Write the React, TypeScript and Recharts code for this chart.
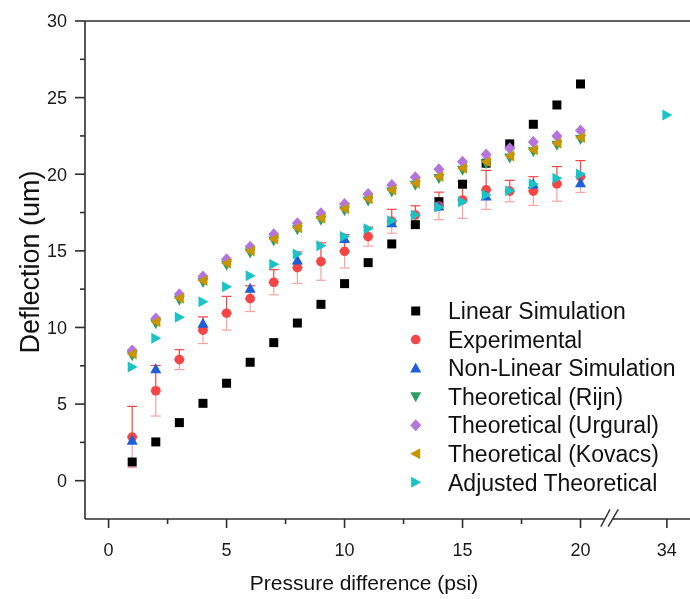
import { ScatterChart, Scatter, XAxis, YAxis, ErrorBar, ReferenceLine, Legend } from 'recharts';

const FONT = '"Liberation Sans", Arial, sans-serif';
const AXIS = '#2e2e2e';

// pressure difference (psi)
const pressure = [1, 2, 3, 4, 5, 6, 7, 8, 9, 10, 11, 12, 13, 14, 15, 16, 17, 18, 19, 20];
const linearSim = [1.22, 2.53, 3.79, 5.05, 6.36, 7.73, 9.01, 10.29, 11.51, 12.86, 14.23, 15.45, 16.71, 18.21, 19.35, 20.72, 21.98, 23.26, 24.52, 25.89];
const experimental = [2.85, 5.87, 7.9, 9.82, 10.93, 11.88, 12.95, 13.9, 14.3, 14.97, 15.93, 16.93, 17.34, 17.93, 18.32, 18.98, 18.9, 18.9, 19.37, 19.85];
const expError = [2.0, 1.65, 0.65, 0.87, 1.1, 0.84, 0.82, 1.03, 1.22, 1.09, 0.62, 0.78, 0.6, 0.9, 1.2, 1.27, 0.7, 0.94, 1.13, 1.04];
const nonLinearX = [1, 2, 4, 6, 8, 10, 12, 14, 16, 18, 20];
const nonLinearSim = [2.64, 7.31, 10.27, 12.56, 14.41, 15.8, 16.84, 17.93, 18.58, 19.37, 19.45];
const rijn = [8.15, 10.25, 11.78, 12.93, 14.06, 14.86, 15.65, 16.38, 17.0, 17.62, 18.26, 18.84, 19.28, 19.72, 20.26, 20.69, 21.06, 21.46, 21.89, 22.26];
const urgural = [8.49, 10.58, 12.17, 13.32, 14.45, 15.27, 16.08, 16.8, 17.45, 18.06, 18.71, 19.3, 19.8, 20.33, 20.82, 21.28, 21.7, 22.1, 22.5, 22.85];
const kovacs = [8.27, 10.38, 11.9, 13.06, 14.19, 14.99, 15.78, 16.51, 17.13, 17.75, 18.39, 18.97, 19.41, 19.85, 20.39, 20.82, 21.19, 21.59, 22.02, 22.39];
const adjusted = [7.42, 9.29, 10.67, 11.68, 12.66, 13.38, 14.12, 14.8, 15.34, 15.93, 16.45, 16.97, 17.34, 17.85, 18.21, 18.65, 18.93, 19.37, 19.74, 20.02];
// the point past the axis break
const adjustedFarX = [34];
const adjustedFar = [23.87];

const xTicks = [0, 2.5, 5, 7.5, 10, 12.5, 15, 17.5, 20];
const farTicks = [34];
const yTicks = [0, 2.5, 5, 7.5, 10, 12.5, 15, 17.5, 20, 22.5, 25, 27.5, 30];

const rows = (xs: number[], ys: number[]) => xs.map((x, i) => ({ x, y: ys[i] }));
const expRows = pressure.map((x, i) => ({
  x,
  y: experimental[i],
  errUp: [0, expError[i]],
  errDown: [expError[i], 0],
}));

type Kind = 'square' | 'circle' | 'up' | 'down' | 'diamond' | 'left' | 'right';

const series: { name: string; kind: Kind; color: string }[] = [
  { name: 'Linear Simulation', kind: 'square', color: '#000000' },
  { name: 'Experimental', kind: 'circle', color: '#f54545' },
  { name: 'Non-Linear Simulation', kind: 'up', color: '#1c5fd8' },
  { name: 'Theoretical (Rijn)', kind: 'down', color: '#2f9e62' },
  { name: 'Theoretical (Urgural)', kind: 'diamond', color: '#b374dc' },
  { name: 'Theoretical (Kovacs)', kind: 'left', color: '#c89400' },
  { name: 'Adjusted Theoretical', kind: 'right', color: '#17c4c6' },
];

function Marker({ kind, cx, cy, fill }: { kind: Kind; cx: number; cy: number; fill: string }) {
  switch (kind) {
    case 'square':
      return <rect x={cx - 4.5} y={cy - 4.5} width={9} height={9} fill={fill} />;
    case 'circle':
      return <circle cx={cx} cy={cy} r={4.8} fill={fill} />;
    case 'up':
      return <polygon points={`${cx},${cy - 5.5} ${cx - 5.5},${cy + 4.5} ${cx + 5.5},${cy + 4.5}`} fill={fill} />;
    case 'down':
      return <polygon points={`${cx},${cy + 5.5} ${cx - 5.5},${cy - 4.5} ${cx + 5.5},${cy - 4.5}`} fill={fill} />;
    case 'diamond':
      return <polygon points={`${cx},${cy - 6} ${cx + 5.5},${cy} ${cx},${cy + 6} ${cx - 5.5},${cy}`} fill={fill} />;
    case 'left':
      return <polygon points={`${cx - 5.5},${cy} ${cx + 4.5},${cy - 5.5} ${cx + 4.5},${cy + 5.5}`} fill={fill} />;
    default:
      return <polygon points={`${cx + 5.5},${cy} ${cx - 4.5},${cy - 5.5} ${cx - 4.5},${cy + 5.5}`} fill={fill} />;
  }
}

const shapeOf = (i: number) => (p: any) => <Marker kind={series[i].kind} cx={p.cx} cy={p.cy} fill={series[i].color} />;

const XTick = ({ x, y, payload }: any) => {
  const v = payload.value;
  const major = v % 5 === 0;
  return (
    <g>
      <line x1={x} x2={x} y1={y} y2={y + (major ? 9 : 5)} stroke={AXIS} strokeWidth={1.6} />
      {major && (
        <text x={x} y={y + 37} textAnchor="middle" fontSize={18} fill="#1a1a1a" fontFamily={FONT}>
          {v}
        </text>
      )}
    </g>
  );
};

const YTick = ({ x, y, payload }: any) => {
  const v = payload.value;
  const major = v % 5 === 0;
  return (
    <g>
      <line x1={x} x2={x - (major ? 10 : 5)} y1={y} y2={y} stroke={AXIS} strokeWidth={1.6} />
      {major && (
        <text x={x - 18} y={y + 6.4} textAnchor="end" fontSize={18} fill="#1a1a1a" fontFamily={FONT}>
          {v}
        </text>
      )}
    </g>
  );
};

function LegendBox({ payload }: any) {
  const items = (payload || [])
    .filter((p: any) => p.type !== 'none')
    .sort((a: any, b: any) => series.findIndex((s) => s.name === a.value) - series.findIndex((s) => s.name === b.value));
  return (
    <svg width={290} height={205} style={{ display: 'block' }}>
      {items.map((p: any, i: number) => {
        const s = series.find((d) => d.name === p.value) || series[0];
        const cy = 14 + i * 28.55;
        return (
          <g key={p.value}>
            <Marker kind={s.kind} cx={15.7} cy={cy} fill={s.color} />
            <text x={48} y={cy + 8.2} fontSize={23} fill="#111" fontFamily={FONT}>
              {p.value}
            </text>
          </g>
        );
      })}
    </svg>
  );
}

export default function App() {
  const line = { stroke: AXIS, strokeWidth: 1.6 };
  return (
    <div style={{ position: 'fixed', left: 0, top: 0 }}>
      <ScatterChart width={690} height={599} margin={{ top: 21, right: 0, bottom: 0, left: 0 }}>
        <XAxis
          xAxisId="main"
          type="number"
          dataKey="x"
          domain={[-1, 24.64]}
          ticks={xTicks}
          interval={0}
          height={80}
          tickSize={0}
          tickMargin={0}
          tickLine={false}
          axisLine={false}
          tick={<XTick />}
          allowDataOverflow
          label={{
            content: ({ viewBox }: any) => (
              <text x={364} y={viewBox.y + 71} textAnchor="middle" fontSize={21} fill="#111" fontFamily={FONT}>
                Pressure difference (psi)
              </text>
            ),
          }}
        />
        {/* same scale as the main axis, shifted so 34 sits past the break */}
        <XAxis xAxisId="far" type="number" dataKey="x" domain={[9.34, 34.98]} ticks={farTicks} height={0} hide allowDataOverflow />
        <YAxis
          type="number"
          dataKey="y"
          domain={[-2.5, 30]}
          ticks={yTicks}
          interval={0}
          width={85}
          tickSize={0}
          tickMargin={0}
          tickLine={false}
          axisLine={line}
          tick={<YTick />}
          allowDataOverflow
          label={{
            content: () => (
              <text
                x={39}
                y={262}
                transform="rotate(-90 39 262)"
                textAnchor="middle"
                fontSize={27}
                fill="#111"
                fontFamily={FONT}
              >
                Deflection (um)
              </text>
            ),
          }}
        />

        <ReferenceLine xAxisId="main" y={30} {...line} />
        <ReferenceLine xAxisId="main" segment={[{ x: -1, y: -2.5 }, { x: 21.03, y: -2.5 }]} {...line} ifOverflow="visible" />
        <ReferenceLine xAxisId="main" segment={[{ x: 21.36, y: -2.5 }, { x: 24.64, y: -2.5 }]} {...line} ifOverflow="visible" />
        <ReferenceLine xAxisId="main" segment={[{ x: 20.86, y: -3.0 }, { x: 21.25, y: -1.87 }]} stroke={AXIS} strokeWidth={1.4} ifOverflow="visible" />
        <ReferenceLine xAxisId="main" segment={[{ x: 21.17, y: -3.0 }, { x: 21.6, y: -1.87 }]} stroke={AXIS} strokeWidth={1.4} ifOverflow="visible" />
        <ReferenceLine
          xAxisId="far"
          segment={[{ x: farTicks[0], y: -2.5 }, { x: farTicks[0], y: -3.09 }]}
          {...line}
          ifOverflow="visible"
          label={{
            content: ({ viewBox }: any) => (
              <text x={viewBox.x} y={556} textAnchor="middle" fontSize={18} fill="#1a1a1a" fontFamily={FONT}>
                {farTicks[0]}
              </text>
            ),
          }}
        />

        <Scatter xAxisId="main" name={series[0].name} data={rows(pressure, linearSim)} fill={series[0].color} shape={shapeOf(0)} isAnimationActive={false} />
        <Scatter xAxisId="main" name={series[1].name} data={expRows} fill={series[1].color} shape={shapeOf(1)} isAnimationActive={false}>
          <ErrorBar dataKey="errUp" direction="y" width={5} stroke="#f54545" strokeWidth={1.2} isAnimationActive={false} />
          <ErrorBar dataKey="errDown" direction="y" width={5} stroke="#f7a3a3" strokeWidth={1.2} isAnimationActive={false} />
        </Scatter>
        <Scatter xAxisId="main" name={series[2].name} data={rows(nonLinearX, nonLinearSim)} fill={series[2].color} shape={shapeOf(2)} isAnimationActive={false} />
        <Scatter xAxisId="main" name={series[3].name} data={rows(pressure, rijn)} fill={series[3].color} shape={shapeOf(3)} isAnimationActive={false} />
        <Scatter xAxisId="main" name={series[4].name} data={rows(pressure, urgural)} fill={series[4].color} shape={shapeOf(4)} isAnimationActive={false} />
        <Scatter xAxisId="main" name={series[5].name} data={rows(pressure, kovacs)} fill={series[5].color} shape={shapeOf(5)} isAnimationActive={false} />
        <Scatter xAxisId="main" name={series[6].name} data={rows(pressure, adjusted)} fill={series[6].color} shape={shapeOf(6)} isAnimationActive={false} />
        <Scatter xAxisId="far" name={series[6].name} legendType="none" data={rows(adjustedFarX, adjustedFar)} fill={series[6].color} shape={shapeOf(6)} isAnimationActive={false} />

        <Legend
          layout="vertical"
          align="center"
          verticalAlign="middle"
          wrapperStyle={{ left: 400, top: 297, width: 290 }}
          content={<LegendBox />}
        />
      </ScatterChart>
    </div>
  );
}
